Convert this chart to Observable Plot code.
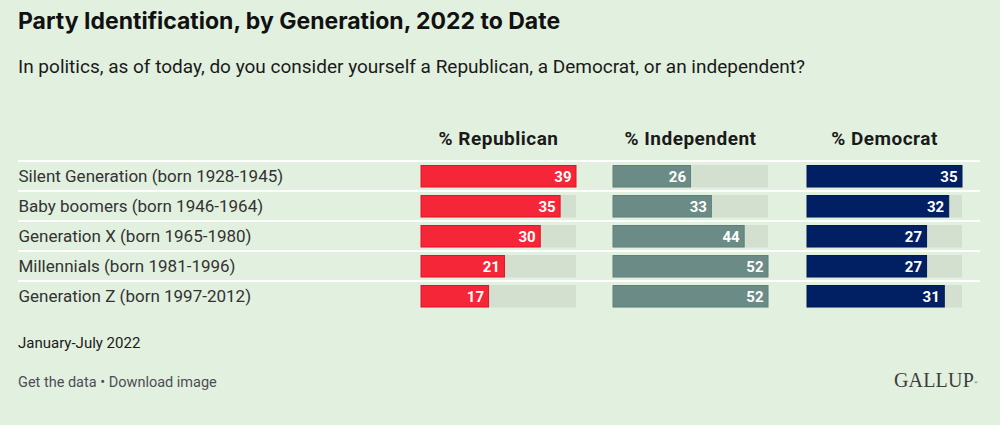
<!DOCTYPE html>
<html>
<head>
<meta charset="utf-8">
<script src="https://cdn.jsdelivr.net/npm/d3@7"></script>
<script src="https://cdn.jsdelivr.net/npm/@observablehq/plot@0.6"></script>
<style>
  html, body { margin: 0; padding: 0; }
  body { width: 1000px; height: 425px; background: #e2f0df; position: relative; overflow: hidden; font-family: Roboto, "Noto Sans", sans-serif; }
  .abs { position: absolute; white-space: nowrap; }
  #title { left: 18px; top: 6px; font-family: Inter, Roboto, sans-serif; font-size: 23px; line-height: 30px; font-weight: 700; color: #111; }
  #subtitle { left: 18px; top: 55px; font-size: 19px; line-height: 24px; color: #1a1a1a; }
  .hdr { top: 129px; width: 155px; text-align: center; font-size: 19px; line-height: 20px; font-weight: 700; letter-spacing: 0.5px; color: #1a1a1a; }
  #note { left: 18px; top: 333px; font-size: 15px; line-height: 20px; color: #1a1a1a; }
  #links { left: 18px; top: 373px; font-size: 14.5px; line-height: 20px; color: #4d4d55; }
  #logo { right: 22px; top: 368px; font-family: "Liberation Serif", "DejaVu Serif", serif; font-size: 20px; line-height: 24px; color: #3d3d3d; letter-spacing: 0.2px; }
  #logo sup { font-size: 5px; vertical-align: top; position: relative; top: 3px; }
  .plotbox { position: absolute; top: 120px; }
</style>
</head>
<body>
<div id="title" class="abs">Party Identification, by Generation, 2022 to Date</div>
<div id="subtitle" class="abs">In politics, as of today, do you consider yourself a Republican, a Democrat, or an independent?</div>
<div id="main" class="plotbox" style="left:0px"></div>
<div id="p0" class="plotbox" style="left:421px"></div>
<div id="p1" class="plotbox" style="left:613px"></div>
<div id="p2" class="plotbox" style="left:807px"></div>
<div id="note" class="abs">January-July 2022</div>
<div id="links" class="abs">Get the data • Download image</div>
<div id="logo" class="abs">GALLUP<sup>®</sup></div>
<script>
const generations = [
  "Silent Generation (born 1928-1945)",
  "Baby boomers (born 1946-1964)",
  "Generation X (born 1965-1980)",
  "Millennials (born 1981-1996)",
  "Generation Z (born 1997-2012)"
];
const columns = ["% Republican", "% Independent", "% Democrat"];
const republican = [39, 35, 30, 21, 17];
const independent = [26, 33, 44, 52, 52];
const democrat = [35, 32, 27, 27, 31];

const H = 200, MT = 39, MB = 7;
const bandwidth = (H - MT - MB) / generations.length;

// Base layer: separators and row labels
const main = Plot.plot({
  width: 1000, height: H,
  marginTop: MT, marginBottom: MB, marginLeft: 18, marginRight: 20,
  y: {type: "band", domain: generations, axis: null, padding: 0},
  style: {background: "transparent", overflow: "visible"},
  marks: [
    Plot.ruleY(generations, {y: d => d, stroke: "white", strokeWidth: 2, dy: -bandwidth / 2}),
    Plot.text(generations, {y: d => d, text: d => d, frameAnchor: "left", textAnchor: "start",
      fontSize: 17, fill: "#333", fontFamily: "Roboto", dy: 0})
  ]
});
document.getElementById("main").appendChild(main);

const panels = [
  {values: republican, fill: "#f42637", stroke: "#e0132a"},
  {values: independent, fill: "#6b8b86", stroke: "#5f7f7a"},
  {values: democrat, fill: "#011f63", stroke: "#001a55"}
];

panels.forEach((p, k) => {
  const rows = generations.map((g, i) => ({g, v: p.values[i]}));
  const max = d3.max(p.values);
  const chart = Plot.plot({
    width: 155, height: H,
    marginTop: MT, marginBottom: MB, marginLeft: 0, marginRight: 0,
    x: {domain: [0, max], axis: null},
    y: {type: "band", domain: generations, axis: null, padding: 0},
    style: {background: "transparent", overflow: "visible"},
    marks: [
      Plot.barX(rows, {y: "g", x: () => max, fill: "#d3e0cf", insetTop: 4, insetBottom: 3.5}),
      Plot.barX(rows, {y: "g", x: "v", fill: p.fill, stroke: p.stroke, strokeWidth: 1, insetTop: 4.5, insetBottom: 4}),
      Plot.text(rows, {y: "g", x: "v", text: d => String(d.v), textAnchor: "end", dx: -5, dy: 0.5,
        fill: "white", fontWeight: "bold", fontSize: 15, fontFamily: "Roboto"})
    ]
  });
  document.getElementById("p" + k).appendChild(chart);
  const hdr = document.createElement("div");
  hdr.className = "abs hdr";
  hdr.style.left = document.getElementById("p" + k).style.left;
  hdr.textContent = columns[k];
  document.body.appendChild(hdr);
});
</script>
</body>
</html>
